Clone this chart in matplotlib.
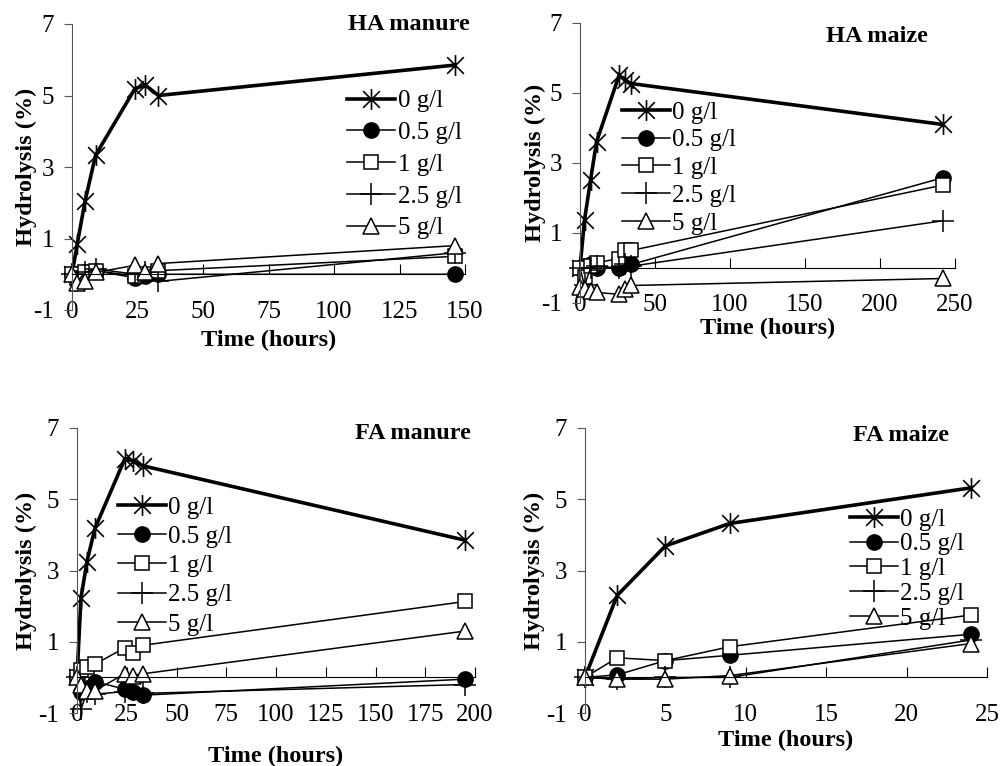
import matplotlib
matplotlib.use("Agg")
import matplotlib.pyplot as plt
from matplotlib.path import Path

plt.rcParams['font.family'] = ['Liberation Serif', 'DejaVu Serif']
plt.rcParams['axes.unicode_minus'] = False

labels = ["0 g/l", "0.5 g/l", "1 g/l", "2.5 g/l", "5 g/l"]

# HA manure
ham_t = [0, 2, 5, 9, 24, 28, 33, 146]
ham_0 = [0, 0.85, 2.05, 3.33, 5.19, 5.29, 5.0, 5.85]
ham_05 = [0, 0.0, 0.05, 0.1, -0.1, -0.05, 0.0, 0.0]
ham_1 = [0, -0.1, 0.05, 0.1, -0.05, 0.0, 0.1, 0.5]
ham_25 = [0, -0.2, 0.05, 0.15, 0.0, 0.05, -0.2, 0.6]
ham_5 = [0, -0.25, -0.2, 0.05, 0.25, 0.05, 0.3, 0.8]

# HA maize
haz_t = [0, 3, 7, 11, 26, 30, 34, 242]
haz_0 = [0, 1.37, 2.5, 3.6, 5.5, 5.37, 5.27, 4.1]
haz_05 = [0, 0.05, 0.1, 0.0, 0.0, 0.2, 0.1, 2.58]
haz_1 = [0, -0.25, 0.05, 0.15, 0.27, 0.5, 0.5, 2.37]
haz_25 = [0, -0.5, 0.0, 0.05, 0.0, 0.1, 0.05, 1.35]
haz_5 = [-0.55, -0.6, -0.65, -0.7, -0.75, -0.6, -0.5, -0.3]

# FA manure
fam_t = [0, 2, 5, 9, 24, 28, 33, 195]
fam_0 = [0, 2.23, 3.25, 4.18, 6.13, 6.08, 5.94, 3.85]
fam_05 = [0, -0.4, -0.3, -0.12, -0.33, -0.4, -0.5, -0.05]
fam_1 = [0, 0.2, 0.3, 0.37, 0.83, 0.68, 0.9, 2.13]
fam_25 = [0, -0.9, -0.4, -0.47, -0.4, -0.35, -0.45, -0.2]
fam_5 = [0, -0.2, -0.37, -0.37, 0.1, 0.05, 0.1, 1.3]

# FA maize
faz_t = [0, 2, 5, 9, 24]
faz_0 = [0, 2.3, 3.69, 4.32, 5.32]
faz_05 = [0, 0.07, 0.47, 0.62, 1.21]
faz_1 = [0, 0.55, 0.47, 0.86, 1.75]
faz_25 = [0, -0.05, 0.0, 0.0, 1.05]
faz_5 = [0, -0.05, -0.05, 0.05, 0.95]

# asterisk: vertical bar plus an X
star = Path([(0, -1), (0, 1), (-0.8, -0.8), (0.8, 0.8), (-0.8, 0.8), (0.8, -0.8)],
            [Path.MOVETO, Path.LINETO] * 3)

styles = [
    dict(marker=star, ms=15, lw=2.6, mew=1.2),
    dict(marker='o', ms=11, lw=1.1, mfc='black'),
    dict(marker='s', ms=10, lw=1.1, mfc='white', mew=1.1),
    dict(marker='+', ms=16, lw=1.1, mew=1.1),
    dict(marker='^', ms=11, lw=1.1, mfc='white', mew=1.1),
]

fig = plt.figure(figsize=(10.02, 7.66), dpi=100)
W, H = 1002, 766


def panel(rect, t, series, xmax, xstep, title, title_xy, leg_xy, leg_sp, xlab_y, ylab_x):
    l, top, r, bot = rect
    ax = fig.add_axes([l / W, 1 - bot / H, (r - l) / W, (bot - top) / H])
    for vals, st in zip(series, styles):
        ax.plot(t, vals, color='black', clip_on=False, **st)
    ax.set_xlim(0, xmax)
    ax.set_ylim(-1, 7)
    ax.set_yticks([-1, 1, 3, 5, 7])
    ax.set_xticks(list(range(0, xmax + 1, xstep)))
    ax.spines['top'].set_visible(False)
    ax.spines['right'].set_visible(False)
    ax.spines['bottom'].set_position(('data', 0))
    ax.spines['left'].set_color('#555555')
    unit_px = (bot - top) / 8
    pad = unit_px * 0.72 - 6.2
    ax.tick_params(axis='y', direction='out', length=6, labelsize=18, pad=7, color='#555555')
    ax.tick_params(axis='x', direction='in', length=7, labelsize=18, pad=pad)
    ax.set_ylabel('Hydrolysis (%)', fontsize=17.5, fontweight='bold')
    ax.yaxis.set_label_coords(ylab_x, 0.5)
    ax.set_xlabel('Time (hours)', fontsize=17.5, fontweight='bold')
    ax.xaxis.set_label_coords(0.5, xlab_y)
    ax.text(title_xy[0], title_xy[1], title, transform=ax.transAxes, ha='center', va='center',
            fontsize=17.5, fontweight='bold')
    ax.legend(labels, loc='upper left', bbox_to_anchor=leg_xy, frameon=False, fontsize=18,
              handlelength=1.92, handletextpad=0.1, borderpad=0, borderaxespad=0,
              labelspacing=leg_sp)
    return ax


panel((72, 24, 465, 310), ham_t, [ham_0, ham_05, ham_1, ham_25, ham_5], 150, 25,
      'HA manure', (0.857, 0.997), (0.70, 0.77), 0.37, -0.07, -0.09)
panel((580, 23, 955, 303), haz_t, [haz_0, haz_05, haz_1, haz_25, haz_5], 250, 50,
      'HA maize', (0.792, 0.95), (0.112, 0.721), 0.21, -0.054, -0.09)
panel((77, 428, 475, 713), fam_t, [fam_0, fam_05, fam_1, fam_25, fam_5], 200, 25,
      'FA manure', (0.844, 0.982), (0.103, 0.761), 0.27, -0.115, -0.1)
panel((585, 428, 987, 713), faz_t, [faz_0, faz_05, faz_1, faz_25, faz_5], 25, 5,
      'FA maize', (0.786, 0.975), (0.659, 0.719), 0.09, -0.06, -0.1)

fig.savefig('out.png', dpi=100)
